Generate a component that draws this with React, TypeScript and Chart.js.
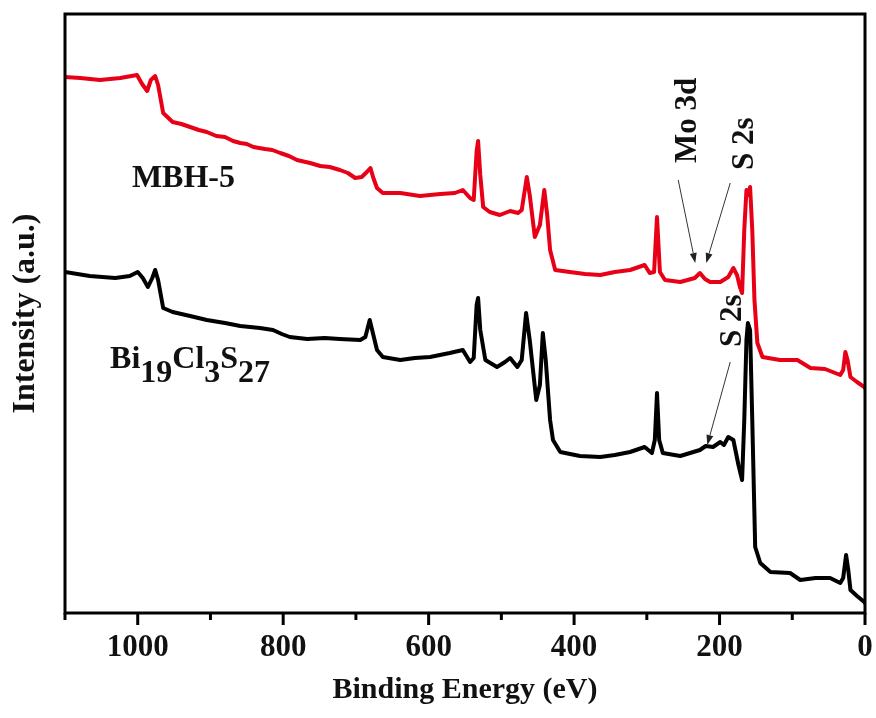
import React, { useEffect, useRef } from 'react';
import { Chart, registerables } from 'chart.js';

Chart.register(...registerables);

const SERIF = '"Liberation Serif", "Times New Roman", serif';

// XPS survey spectrum of MBH-5 (binding energy in eV, intensity in a.u.)
const mbhEnergy = [
  1100, 1079, 1052, 1024, 1001, 994, 987, 982, 976, 972, 965, 952, 940, 928, 916, 905, 892, 880, 869, 859, 850, 841,
  825, 815, 804, 792, 781, 763, 749, 736, 722, 711, 701, 692, 685, 680, 676, 671, 663, 639, 612, 584, 564, 553, 543,
  538, 534, 532, 529, 525, 516, 502, 488, 477, 472, 465, 461, 454, 447, 441, 437, 433, 426, 406, 385, 364, 344, 323,
  303, 296, 290, 286, 282, 275, 254, 234, 227, 220, 213, 199, 188, 181, 176, 172, 169, 166, 163, 161, 158, 155, 152,
  148, 141, 117, 93, 75, 55, 34, 30, 27, 24, 20, 11, 1, 0,
];
const mbhIntensity = [
  536, 535, 533, 535, 538, 529, 522, 533, 537, 528, 500, 491, 489, 486, 483, 481, 477, 476, 472, 470, 469, 466,
  464, 463, 460, 457, 453, 450, 447, 446, 443, 440, 435, 436, 441, 445, 435, 425, 420, 420, 417, 419, 420, 423, 415,
  413, 462, 472, 438, 406, 401, 398, 402, 400, 403, 436, 418, 376, 388, 423, 398, 363, 343, 341, 339, 338, 341, 343,
  348, 340, 341, 396, 341, 333, 331, 335, 340, 334, 331, 331, 336, 345, 338, 326, 320, 383, 423, 418, 426, 383, 313,
  270, 256, 253, 253, 245, 244, 238, 243, 261, 253, 236, 231, 226, 225,
];

// XPS survey spectrum of Bi19Cl3S27
const bcsEnergy = [
  1100, 1066, 1031, 1011, 1000, 993, 986, 980, 976, 972, 965, 952, 928, 905, 880, 859, 832, 814, 802, 791, 767, 743,
  722, 694, 687, 681, 676, 671, 663, 639, 619, 598, 571, 553, 543, 538, 534, 532, 529, 522, 506, 495, 488, 478, 472,
  466, 461, 452, 447, 443, 439, 433, 429, 419, 392, 364, 344, 323, 303, 293, 289, 286, 283, 278, 254, 227, 219, 209,
  199, 194, 188, 181, 174, 169, 166, 163, 161, 158, 155, 151, 144, 130, 103, 89, 68, 48, 34, 30, 26, 23, 20, 11, 1, 0,
];
const bcsIntensity = [
  341, 337, 335, 337, 341, 335, 326, 335, 343, 333, 305, 301, 297, 293, 290, 287, 285, 283, 279, 276, 274, 275,
  274, 273, 276, 293, 278, 263, 256, 253, 255, 256, 260, 263, 251, 255, 308, 315, 283, 253, 246, 251, 255, 246, 253,
  300, 273, 213, 228, 280, 253, 193, 173, 161, 157, 156, 158, 161, 166, 160, 173, 220, 173, 160, 157, 163, 167, 166,
  171, 168, 176, 173, 148, 133, 193, 273, 290, 283, 193, 66, 50, 41, 40, 33, 35, 35, 30, 35, 58, 43, 23, 17, 11, 10,
];

const energyMin = 0;
const energyMax = 1100;
const minorStep = 100;
const labelStep = 200;

const sampleLabels = ['MBH-5', 'Bi19Cl3S27'];
const sampleColors = ['rgb(232, 0, 22)', '#000000'];

// Peak assignments: [text, energy (eV), intensity where the text starts]
const peakTags: [string, number, number][] = [
  ['Mo 3d', 243, 450],
  ['S 2s', 164.6, 443],
  ['S 2s', 181, 266],
];
// Arrows: [fromEnergy, fromIntensity, toEnergy, toIntensity]
const peakArrows: [number, number, number, number][] = [
  [256.8, 433, 233.4, 350],
  [185.3, 430, 218.3, 350],
  [185.3, 251, 216.9, 168],
];

function toPoints(xs: number[], ys: number[]) {
  return xs.map((x, i) => ({ x, y: ys[i] }));
}

const decorPlugin = {
  id: 'xpsDecor',
  afterDatasetsDraw(chart: any) {
    const { ctx, chartArea, scales } = chart;
    const xs = scales.x;
    const ys = scales.y;
    ctx.save();

    // frame
    ctx.strokeStyle = '#000';
    ctx.lineWidth = 3;
    ctx.strokeRect(chartArea.left, chartArea.top, chartArea.right - chartArea.left, chartArea.bottom - chartArea.top);

    // outward tick marks (major every 200 eV, minor every 100 eV)
    ctx.lineCap = 'butt';
    for (const t of xs.ticks) {
      const px = xs.getPixelForValue(t.value);
      const major = Math.round(t.value) % labelStep === 0;
      ctx.beginPath();
      ctx.moveTo(px, chartArea.bottom);
      ctx.lineTo(px, chartArea.bottom + (major ? 12 : 7));
      ctx.stroke();
    }

    ctx.fillStyle = '#111';
    ctx.font = `bold 32px ${SERIF}`;
    ctx.textBaseline = 'alphabetic';
    ctx.textAlign = 'left';

    // sample names
    ctx.fillText(sampleLabels[0], xs.getPixelForValue(1008), ys.getPixelForValue(426));
    const parts: [string, boolean][] = [
      ['Bi', false], ['19', true], ['Cl', false], ['3', true], ['S', false], ['27', true],
    ];
    let cx = xs.getPixelForValue(1038);
    const by = ys.getPixelForValue(245);
    for (const [txt, sub] of parts) {
      ctx.fillText(txt, cx, sub ? by + 14 : by);
      cx += ctx.measureText(txt).width;
    }

    // peak tags (vertical text)
    ctx.font = `bold 31px ${SERIF}`;
    for (const [txt, e, v] of peakTags) {
      ctx.save();
      ctx.translate(xs.getPixelForValue(e), ys.getPixelForValue(v));
      ctx.rotate(-Math.PI / 2);
      ctx.textBaseline = 'middle';
      ctx.fillText(txt, 0, 0);
      ctx.restore();
    }

    // arrows
    ctx.strokeStyle = '#333';
    ctx.fillStyle = '#222';
    ctx.lineWidth = 1;
    for (const [e0, v0, e1, v1] of peakArrows) {
      const x0 = xs.getPixelForValue(e0);
      const y0 = ys.getPixelForValue(v0);
      const x1 = xs.getPixelForValue(e1);
      const y1 = ys.getPixelForValue(v1);
      const ang = Math.atan2(y1 - y0, x1 - x0);
      const head = 10;
      const half = 3.5;
      const bx = x1 - head * Math.cos(ang);
      const byy = y1 - head * Math.sin(ang);
      ctx.beginPath();
      ctx.moveTo(x0, y0);
      ctx.lineTo(bx, byy);
      ctx.stroke();
      ctx.beginPath();
      ctx.moveTo(x1, y1);
      ctx.lineTo(bx + half * Math.sin(ang), byy - half * Math.cos(ang));
      ctx.lineTo(bx - half * Math.sin(ang), byy + half * Math.cos(ang));
      ctx.closePath();
      ctx.fill();
    }
    ctx.restore();
  },
};

export default function App() {
  const canvasRef = useRef<HTMLCanvasElement | null>(null);

  useEffect(() => {
    document.body.style.margin = '0';
    const canvas = canvasRef.current;
    if (!canvas) return;
    const chart = new Chart(canvas, {
      type: 'line',
      data: {
        datasets: [
          {
            label: sampleLabels[1],
            data: toPoints(bcsEnergy, bcsIntensity),
            borderColor: sampleColors[1],
            borderWidth: 4,
            pointRadius: 0,
            tension: 0,
            borderJoinStyle: 'round',
            borderCapStyle: 'round',
          },
          {
            label: sampleLabels[0],
            data: toPoints(mbhEnergy, mbhIntensity),
            borderColor: sampleColors[0],
            borderWidth: 4,
            pointRadius: 0,
            tension: 0,
            borderJoinStyle: 'round',
            borderCapStyle: 'round',
          },
        ],
      },
      options: {
        animation: false,
        responsive: false,
        devicePixelRatio: 1,
        layout: { padding: { top: 14, right: 11, left: 0, bottom: 0 } },
        plugins: {
          legend: { display: false },
          tooltip: { enabled: false },
        },
        scales: {
          x: {
            type: 'linear',
            reverse: true,
            min: energyMin,
            max: energyMax,
            grid: { display: false, drawTicks: false },
            border: { display: false },
            ticks: {
              stepSize: minorStep,
              autoSkip: false,
              maxRotation: 0,
              padding: 16,
              color: '#111',
              font: { family: SERIF, size: 31, weight: 'bold' },
              callback: (v: any) => (Math.round(Number(v)) % labelStep === 0 ? String(v) : ''),
            },
            title: {
              display: true,
              text: 'Binding Energy (eV)',
              color: '#111',
              font: { family: SERIF, size: 30, weight: 'bold' },
              padding: { top: 0, bottom: 10 },
            },
            afterFit: (scale: any) => {
              scale.height = 105;
              scale.paddingLeft = 0;
              scale.paddingRight = 0;
            },
          },
          y: {
            min: 0,
            max: 599,
            grid: { display: false, drawTicks: false },
            border: { display: false },
            ticks: { display: false },
            title: {
              display: true,
              text: 'Intensity (a.u.)',
              color: '#111',
              font: { family: SERIF, size: 32, weight: 'bold' },
              padding: { top: 7, bottom: 0 },
            },
            afterFit: (scale: any) => {
              scale.width = 65;
              scale.paddingTop = 0;
              scale.paddingBottom = 0;
            },
          },
        },
      },
      plugins: [decorPlugin],
    });
    return () => chart.destroy();
  }, []);

  return (
    <div style={{ width: 876, height: 718, background: '#fff' }}>
      <canvas ref={canvasRef} width={876} height={718} />
    </div>
  );
}
